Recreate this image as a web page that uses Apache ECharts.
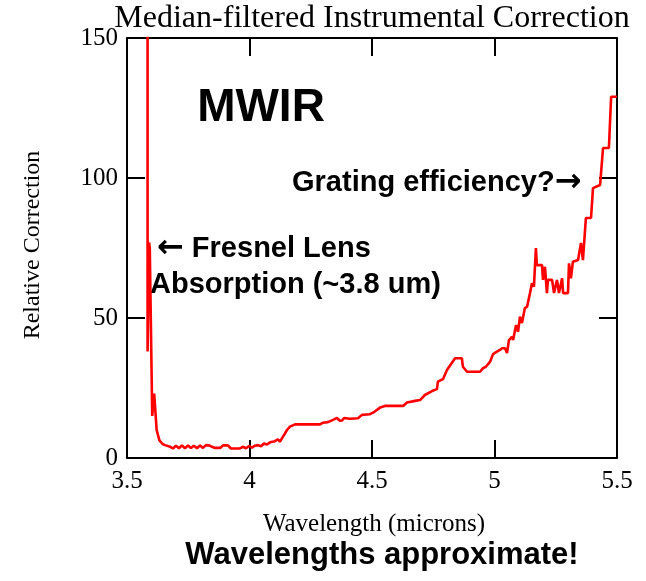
<!DOCTYPE html>
<html>
<head>
<meta charset="utf-8">
<script src="https://cdn.jsdelivr.net/npm/echarts@6/dist/echarts.min.js"></script>
<style>
html,body{margin:0;padding:0;background:#fff;}
#chart{width:646px;height:581px;}
</style>
</head>
<body>
<div id="chart"></div>
<script>
// Wavelength (microns) and relative correction
var wavelength = [
  3.584, 3.584, 3.590, 3.593, 3.603, 3.611, 3.621, 3.632, 3.645, 3.655,
  3.676, 3.688, 3.700, 3.712, 3.724, 3.737, 3.749, 3.761, 3.773, 3.786,
  3.798, 3.810, 3.822, 3.835, 3.847, 3.859, 3.880, 3.892, 3.912, 3.924,
  3.961, 3.973, 3.986, 3.998, 4.010, 4.022, 4.035, 4.047, 4.059, 4.071,
  4.084, 4.092, 4.104, 4.116, 4.124, 4.133, 4.141, 4.153, 4.165, 4.186,
  4.288, 4.300, 4.320, 4.341, 4.357, 4.369, 4.378, 4.386, 4.394, 4.410,
  4.443, 4.459, 4.490, 4.510, 4.533, 4.553, 4.627, 4.643, 4.676, 4.696,
  4.716, 4.745, 4.765, 4.769, 4.790, 4.806, 4.827, 4.839, 4.867, 4.871,
  4.888, 4.941, 4.953, 4.965, 4.982, 4.994, 5.010, 5.022, 5.031, 5.043,
  5.051, 5.059, 5.071, 5.076, 5.088, 5.096, 5.104, 5.112, 5.124, 5.133,
  5.145, 5.153, 5.161, 5.169, 5.173, 5.194, 5.198, 5.206, 5.214, 5.218,
  5.235, 5.243, 5.255, 5.263, 5.276, 5.280, 5.300, 5.304, 5.312, 5.320,
  5.341, 5.353, 5.361, 5.373, 5.394, 5.402, 5.431, 5.443, 5.467, 5.476,
  5.500
];
var correction = [
  160, 38, 77, 75, 15, 23, 10, 6.4, 5.0, 4.6,
  4.0, 3.4, 4.4, 3.5, 4.5, 3.5, 4.5, 3.6, 4.4, 3.5,
  4.5, 3.6, 4.6, 4.5, 4.0, 3.6, 3.6, 4.5, 4.5, 3.4,
  3.4, 4.0, 3.5, 4.3, 3.7, 4.4, 4.6, 4.2, 5.2, 4.8,
  5.6, 5.0, 6.0, 6.7, 5.8, 7.1, 8.2, 10.0, 11.2, 12.0,
  12.0, 12.6, 12.8, 13.6, 14.3, 13.3, 13.4, 14.3, 13.6, 14.0,
  14.2, 15.4, 15.6, 16.5, 18.0, 18.6, 18.6, 19.8, 20.4, 20.7,
  22.5, 23.9, 24.6, 27.3, 28.2, 31.4, 34.1, 35.6, 35.6, 32.6,
  30.8, 30.8, 32.1, 32.6, 34.4, 37.1, 38.0, 38.6, 39.2, 39.2,
  37.5, 42.1, 43.3, 42.1, 47.5, 45.1, 50.5, 48.2, 53.6, 54.0,
  58.9, 62.5, 61.2, 75.0, 68.9, 68.9, 63.6, 68.3, 58.9, 63.6,
  63.6, 58.9, 63.6, 58.9, 64.2, 58.9, 58.9, 69.5, 64.2, 70.1,
  70.7, 76.8, 70.7, 85.7, 85.7, 96.4, 97.5, 110.7, 110.7, 129.0,
  129.0
];
var xTicks = [3.5, 4, 4.5, 5, 5.5];
var yTicks = [0, 50, 100, 150];

var titleText = 'Median-filtered Instrumental Correction';
var xName = 'Wavelength (microns)';
var yName = 'Relative Correction';
var noteText = 'Wavelengths approximate!';
var bandText = 'MWIR';
var gratingText = 'Grating efficiency?';
var fresnelText1 = 'Fresnel Lens';
var fresnelText2 = 'Absorption (~3.8 um)';
var rightArrow = '\u2192';
var leftArrow = '\u2190';

var points = wavelength.map(function (w, i) { return [w, correction[i]]; });

var serif = '"Liberation Serif", "Times New Roman", serif';
var sans = '"Liberation Sans", Arial, sans-serif';
var arrowFont = '"DejaVu Sans", sans-serif';

function axisCommon(showLabel, isX) {
  return {
    axisLine: { show: true, onZero: false, lineStyle: { color: '#000', width: 2 } },
    axisTick: { show: true, inside: true, length: 18, lineStyle: { color: '#000', width: 2 } },
    splitLine: { show: false },
    axisLabel: {
      show: showLabel,
      color: '#000',
      fontFamily: serif,
      fontSize: 25,
      margin: isX ? 11 : 9,
      formatter: function (v) { return String(v); }
    }
  };
}

var xBottom = Object.assign({ type: 'value', position: 'bottom', min: 3.5, max: 5.5, interval: 0.5 }, axisCommon(true, true));
var xTop = Object.assign({ type: 'value', position: 'top', min: 3.5, max: 5.5, interval: 0.5 }, axisCommon(false, true));
var yLeft = Object.assign({ type: 'value', position: 'left', min: 0, max: 150, interval: 50 }, axisCommon(true, false));
var yRight = Object.assign({ type: 'value', position: 'right', min: 0, max: 150, interval: 50 }, axisCommon(false, false));

var boldRich = {
  t: { fontFamily: sans, fontWeight: 'bold', fontSize: 29, fill: '#000', color: '#000' },
  a: { fontFamily: arrowFont, fontWeight: 'bold', fontSize: 32, fill: '#000', color: '#000' }
};

var chart = echarts.init(document.getElementById('chart'), null, { renderer: 'canvas' });
chart.setOption({
  animation: false,
  backgroundColor: '#fff',
  grid: { left: 127, right: 29, top: 38, bottom: 123 },
  xAxis: [xBottom, xTop],
  yAxis: [yLeft, yRight],
  series: [{
    type: 'line',
    xAxisIndex: 0,
    yAxisIndex: 0,
    data: points,
    showSymbol: false,
    clip: true,
    lineStyle: { color: '#ff0000', width: 2.6 }
  }],
  graphic: [
    { type: 'text', x: 372, y: 19, style: { text: titleText, font: '32px ' + serif, fill: '#000', align: 'center', verticalAlign: 'middle' } },
    { type: 'text', x: 374, y: 524, style: { text: xName, font: '25px ' + serif, fill: '#000', align: 'center', verticalAlign: 'middle' } },
    { type: 'text', x: 33, y: 245, rotation: Math.PI / 2, style: { text: yName, font: '24px ' + serif, fill: '#000', align: 'center', verticalAlign: 'middle' } },
    { type: 'text', x: 382, y: 555, style: { text: noteText, font: 'bold 31px ' + sans, fill: '#000', align: 'center', verticalAlign: 'middle' } },
    { type: 'text', x: 261, y: 108, style: { text: bandText, font: 'bold 46px ' + sans, fill: '#000', align: 'center', verticalAlign: 'middle' } },
    { type: 'text', x: 292, y: 183, style: { text: '{t|' + gratingText + '}{a|' + rightArrow + '}', rich: boldRich, align: 'left', verticalAlign: 'middle' } },
    { type: 'text', x: 157, y: 249, style: { text: '{a|' + leftArrow + '}{t| ' + fresnelText1 + '}', rich: boldRich, align: 'left', verticalAlign: 'middle' } },
    { type: 'text', x: 150, y: 285, style: { text: fresnelText2, font: 'bold 29px ' + sans, fill: '#000', align: 'left', verticalAlign: 'middle' } }
  ]
});
</script>
</body>
</html>
